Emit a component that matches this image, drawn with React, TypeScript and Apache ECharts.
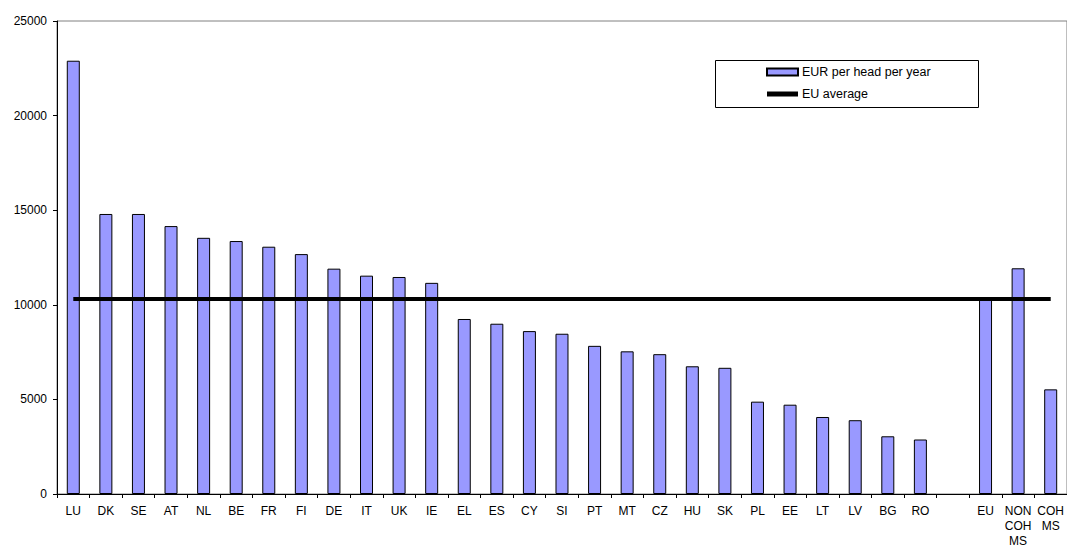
import React, { useEffect, useRef } from "react";
import * as echarts from "echarts";

const categories: string[] = [
  "LU", "DK", "SE", "AT", "NL", "BE", "FR", "FI", "DE", "IT", "UK", "IE",
  "EL", "ES", "CY", "SI", "PT", "MT", "CZ", "HU", "SK", "PL", "EE", "LT",
  "LV", "BG", "RO", "", "EU", "NON\nCOH\nMS", "COH\nMS",
];

const eurPerHead: (number | null)[] = [
  22900, 14800, 14800, 14160, 13540, 13370, 13070, 12680, 11910, 11540, 11470, 11160,
  9250, 9000, 8610, 8470, 7830, 7540, 7390, 6750, 6670, 4880, 4720, 4070,
  3900, 3050, 2880, null, 10300, 11930, 5530,
];

const euAverageValue = 10300;
const euAverage: number[] = categories.map(() => euAverageValue);

const yTicks = { min: 0, max: 25000, interval: 5000 };

const FONT = "Arial, 'Liberation Sans', sans-serif";

export default function App() {
  const ref = useRef<HTMLDivElement>(null);

  useEffect(() => {
    if (!ref.current) return;
    const chart = echarts.init(ref.current, undefined, { renderer: "svg" });
    chart.setOption({
      animation: false,
      backgroundColor: "#ffffff",
      textStyle: { fontFamily: FONT },
      grid: {
        left: 57,
        top: 21,
        width: 1012,
        height: 474,
        show: true,
        borderColor: "#808080",
        borderWidth: 1,
      },
      graphic: [
        {
          type: "rect",
          shape: { x: 715.5, y: 60.5, width: 263, height: 47 },
          style: { fill: "#ffffff", stroke: "#000000", lineWidth: 1 },
          z: 5,
        },
      ],
      legend: {
        orient: "vertical",
        left: 766,
        top: 65,
        padding: 0,
        itemGap: 8,
        itemWidth: 31,
        itemHeight: 7,
        z: 10,
        textStyle: { fontFamily: FONT, fontSize: 12.5, color: "#000", padding: [0, 0, 0, -1], lineHeight: 14 },
        data: [
          { name: "EUR per head per year", icon: "rect" },
          {
            name: "EU average",
            icon: "path://M0,0H31V5H0Z",
            itemStyle: { color: "#000", borderWidth: 0 },
          },
        ],
      },
      xAxis: {
        type: "category",
        data: categories,
        boundaryGap: true,
        axisLine: { show: true, lineStyle: { color: "#000", width: 1 } },
        axisTick: { show: true, interval: 0, length: 4, lineStyle: { color: "#000" } },
        axisLabel: {
          interval: 0,
          margin: 9,
          fontFamily: FONT,
          fontSize: 12,
          lineHeight: 15,
          color: "#000",
        },
        splitLine: { show: false },
      },
      yAxis: {
        type: "value",
        min: yTicks.min,
        max: yTicks.max,
        interval: yTicks.interval,
        axisLine: { show: true, lineStyle: { color: "#000", width: 1 } },
        axisTick: { show: true, length: 4, lineStyle: { color: "#000" } },
        axisLabel: {
          margin: 10,
          fontFamily: FONT,
          fontSize: 12,
          color: "#000",
          formatter: (v: number) => String(v),
        },
        splitLine: { show: false },
      },
      series: [
        {
          name: "EUR per head per year",
          type: "bar",
          data: eurPerHead,
          barWidth: 13,
          itemStyle: { color: "#9999ff", borderColor: "#000", borderWidth: 1 },
          z: 2,
        },
        {
          name: "EU average",
          type: "line",
          data: euAverage,
          symbol: "none",
          showSymbol: false,
          lineStyle: { color: "#000", width: 4 },
          itemStyle: { color: "#000" },
          z: 3,
        },
      ],
    });
    return () => chart.dispose();
  }, []);

  return (
    <div
      style={{ position: "fixed", left: 0, top: 0, width: 1067, height: 548, overflow: "hidden", background: "#fff" }}
    >
      <div ref={ref} style={{ width: 1067, height: 548 }} />
    </div>
  );
}
